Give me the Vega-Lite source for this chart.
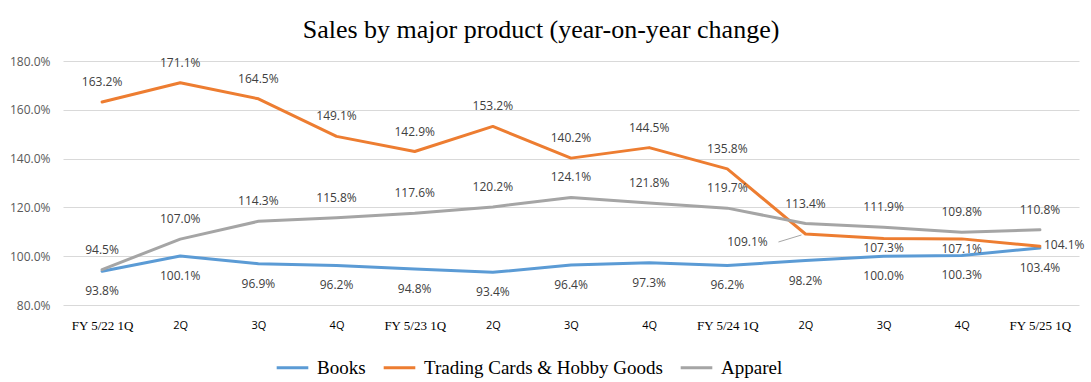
{
  "$schema": "https://vega.github.io/schema/vega-lite/v6.json",
  "autosize": "none",
  "width": 1016,
  "height": 244,
  "padding": {"left": 63, "top": 61, "right": 12, "bottom": 77},
  "background": "white",
  "title": {
    "text": "Sales by major product (year-on-year change)",
    "font": "Liberation Serif",
    "fontSize": 26,
    "fontWeight": "normal",
    "color": "#000000",
    "anchor": "middle",
    "dx": -30,
    "offset": 12
  },
  "config": {
    "view": {"stroke": null},
    "axis": {"labelFont": "Open Sans", "labelColor": "#595959", "labelFontSize": 11}
  },
  "data": {
    "values": [
      {"period": "FY 5/22 1Q", "i": 0, "series": "Books", "value": 93.8},
      {"period": "FY 5/22 2Q", "i": 1, "series": "Books", "value": 100.1},
      {"period": "FY 5/22 3Q", "i": 2, "series": "Books", "value": 96.9},
      {"period": "FY 5/22 4Q", "i": 3, "series": "Books", "value": 96.2},
      {"period": "FY 5/23 1Q", "i": 4, "series": "Books", "value": 94.8},
      {"period": "FY 5/23 2Q", "i": 5, "series": "Books", "value": 93.4},
      {"period": "FY 5/23 3Q", "i": 6, "series": "Books", "value": 96.4},
      {"period": "FY 5/23 4Q", "i": 7, "series": "Books", "value": 97.3},
      {"period": "FY 5/24 1Q", "i": 8, "series": "Books", "value": 96.2},
      {"period": "FY 5/24 2Q", "i": 9, "series": "Books", "value": 98.2},
      {"period": "FY 5/24 3Q", "i": 10, "series": "Books", "value": 100.0},
      {"period": "FY 5/24 4Q", "i": 11, "series": "Books", "value": 100.3},
      {"period": "FY 5/25 1Q", "i": 12, "series": "Books", "value": 103.4},
      {"period": "FY 5/22 1Q", "i": 0, "series": "Trading Cards & Hobby Goods", "value": 163.2},
      {"period": "FY 5/22 2Q", "i": 1, "series": "Trading Cards & Hobby Goods", "value": 171.1},
      {"period": "FY 5/22 3Q", "i": 2, "series": "Trading Cards & Hobby Goods", "value": 164.5},
      {"period": "FY 5/22 4Q", "i": 3, "series": "Trading Cards & Hobby Goods", "value": 149.1},
      {"period": "FY 5/23 1Q", "i": 4, "series": "Trading Cards & Hobby Goods", "value": 142.9},
      {"period": "FY 5/23 2Q", "i": 5, "series": "Trading Cards & Hobby Goods", "value": 153.2},
      {"period": "FY 5/23 3Q", "i": 6, "series": "Trading Cards & Hobby Goods", "value": 140.2},
      {"period": "FY 5/23 4Q", "i": 7, "series": "Trading Cards & Hobby Goods", "value": 144.5},
      {"period": "FY 5/24 1Q", "i": 8, "series": "Trading Cards & Hobby Goods", "value": 135.8},
      {"period": "FY 5/24 2Q", "i": 9, "series": "Trading Cards & Hobby Goods", "value": 109.1},
      {"period": "FY 5/24 3Q", "i": 10, "series": "Trading Cards & Hobby Goods", "value": 107.3},
      {"period": "FY 5/24 4Q", "i": 11, "series": "Trading Cards & Hobby Goods", "value": 107.1},
      {"period": "FY 5/25 1Q", "i": 12, "series": "Trading Cards & Hobby Goods", "value": 104.1},
      {"period": "FY 5/22 1Q", "i": 0, "series": "Apparel", "value": 94.5},
      {"period": "FY 5/22 2Q", "i": 1, "series": "Apparel", "value": 107.0},
      {"period": "FY 5/22 3Q", "i": 2, "series": "Apparel", "value": 114.3},
      {"period": "FY 5/22 4Q", "i": 3, "series": "Apparel", "value": 115.8},
      {"period": "FY 5/23 1Q", "i": 4, "series": "Apparel", "value": 117.6},
      {"period": "FY 5/23 2Q", "i": 5, "series": "Apparel", "value": 120.2},
      {"period": "FY 5/23 3Q", "i": 6, "series": "Apparel", "value": 124.1},
      {"period": "FY 5/23 4Q", "i": 7, "series": "Apparel", "value": 121.8},
      {"period": "FY 5/24 1Q", "i": 8, "series": "Apparel", "value": 119.7},
      {"period": "FY 5/24 2Q", "i": 9, "series": "Apparel", "value": 113.4},
      {"period": "FY 5/24 3Q", "i": 10, "series": "Apparel", "value": 111.9},
      {"period": "FY 5/24 4Q", "i": 11, "series": "Apparel", "value": 109.8},
      {"period": "FY 5/25 1Q", "i": 12, "series": "Apparel", "value": 110.8}
    ]
  },
  "transform": [{"calculate": "format(datum.value, '.1f') + '%'", "as": "label"}],
  "encoding": {
    "x": {
      "field": "period",
      "type": "ordinal",
      "sort": null,
      "scale": {"type": "point", "padding": 0.5},
      "axis": {
        "title": null,
        "labelAngle": 0,
        "ticks": false,
        "domain": false,
        "grid": false,
        "labelPadding": 14,
        "labelColor": "#000000",
        "labelExpr": "indexof(datum.value, '1Q') >= 0 ? datum.value : slice(datum.value, -2)",
        "labelFont": {"condition": {"test": "indexof(datum.value, '1Q') >= 0", "value": "Liberation Serif"}, "value": "Open Sans"},
        "labelFontSize": {"condition": {"test": "indexof(datum.value, '1Q') >= 0", "value": 13}, "value": 11}
      }
    },
    "y": {
      "field": "value",
      "type": "quantitative",
      "scale": {"domain": [80, 180], "nice": false, "zero": false},
      "axis": {
        "title": null,
        "values": [80, 100, 120, 140, 160, 180],
        "labelExpr": "format(datum.value, '.1f') + '%'",
        "ticks": false,
        "domain": false,
        "grid": true,
        "gridColor": "#D9D9D9",
        "gridWidth": 1,
        "labelPadding": 13,
        "labelFontSize": 12
      }
    }
  },
  "layer": [
    {
      "mark": {"type": "line", "strokeWidth": 3, "strokeCap": "round", "strokeJoin": "round"},
      "encoding": {
        "color": {
          "field": "series",
          "type": "nominal",
          "scale": {
            "domain": ["Books", "Trading Cards & Hobby Goods", "Apparel"],
            "range": ["#5B9BD5", "#ED7D31", "#A5A5A5"]
          },
          "legend": {
            "title": null,
            "orient": "none",
            "legendX": 212,
            "legendY": 289,
            "direction": "horizontal",
            "symbolType": "stroke",
            "symbolStrokeWidth": 3,
            "symbolSize": 1000,
            "labelFont": "Liberation Serif",
            "labelFontSize": 19,
            "labelColor": "#000000",
            "labelLimit": 400,
            "columnPadding": 11,
            "labelOffset": 7
          }
        }
      }
    },
    {
      "transform": [{"filter": "datum.series != 'Books' && !(datum.series == 'Trading Cards & Hobby Goods' && datum.i >= 9)"}],
      "mark": {"type": "text", "dy": -20, "font": "Open Sans", "fontSize": 12, "color": "#404040"},
      "encoding": {"text": {"field": "label", "type": "nominal"}}
    },
    {
      "transform": [{"filter": "datum.series == 'Books'"}],
      "mark": {"type": "text", "dy": 20, "font": "Open Sans", "fontSize": 12, "color": "#404040"},
      "encoding": {"text": {"field": "label", "type": "nominal"}}
    },
    {
      "transform": [{"filter": "datum.series == 'Trading Cards & Hobby Goods' && (datum.i == 10 || datum.i == 11)"}],
      "mark": {"type": "text", "dy": 10, "font": "Open Sans", "fontSize": 12, "color": "#404040"},
      "encoding": {"text": {"field": "label", "type": "nominal"}}
    },
    {
      "transform": [{"filter": "datum.series == 'Trading Cards & Hobby Goods' && datum.i == 9"}],
      "mark": {"type": "text", "dx": -58, "dy": 8, "font": "Open Sans", "fontSize": 12, "color": "#404040"},
      "encoding": {"text": {"field": "label", "type": "nominal"}}
    },
    {
      "transform": [{"filter": "datum.series == 'Trading Cards & Hobby Goods' && datum.i == 12"}],
      "mark": {"type": "text", "align": "left", "dx": 4, "dy": -1, "font": "Open Sans", "fontSize": 12, "color": "#404040"},
      "encoding": {"text": {"field": "label", "type": "nominal"}}
    },
    {
      "transform": [{"filter": "datum.series == 'Trading Cards & Hobby Goods' && datum.i == 9"}],
      "mark": {"type": "rule", "color": "#A6A6A6", "strokeWidth": 1, "xOffset": -27, "yOffset": 8, "x2Offset": -4, "y2Offset": 1},
      "encoding": {
        "x2": {"field": "period"},
        "y2": {"field": "value"}
      }
    }
  ]
}
